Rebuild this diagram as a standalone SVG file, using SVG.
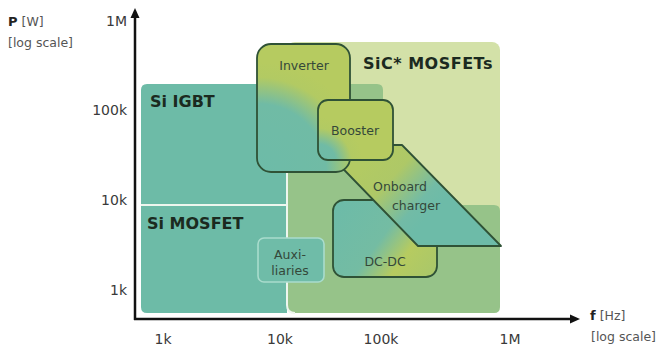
<svg xmlns="http://www.w3.org/2000/svg" width="670" height="349" viewBox="0 0 670 349">
<defs>
<style>
.tick{font-family:"DejaVu Sans",Verdana,sans-serif;font-size:14px;fill:#3a3a3a}
.ax{font-family:"DejaVu Sans",Verdana,sans-serif;font-size:12.5px;fill:#555}
.axb{font-weight:bold;fill:#222;font-size:13px}
.reg{font-family:"DejaVu Sans",Verdana,sans-serif;font-size:16px;font-weight:bold;fill:#1b2a20}
.nt{font-family:"DejaVu Sans",Verdana,sans-serif;font-size:12.5px;fill:#34483a;text-anchor:middle}
.box{stroke:#2f5236;stroke-width:1.8}
.axis{stroke:#111;stroke-width:2.5;fill:none}
</style>
<radialGradient id="gInv" gradientUnits="userSpaceOnUse" cx="258" cy="172" r="110">
<stop offset="0" stop-color="#6dbba8"/><stop offset="0.62" stop-color="#70bba5"/><stop offset="0.86" stop-color="#b2ca63"/><stop offset="1" stop-color="#b6cb60"/>
</radialGradient>
<radialGradient id="gBoo" gradientUnits="userSpaceOnUse" cx="318" cy="162" r="45">
<stop offset="0" stop-color="#6dbba8"/><stop offset="0.4" stop-color="#70bba5"/><stop offset="0.75" stop-color="#b2ca63"/><stop offset="1" stop-color="#b6cb60"/>
</radialGradient>
<linearGradient id="gObc" gradientUnits="userSpaceOnUse" x1="365" y1="165" x2="425" y2="220">
<stop offset="0" stop-color="#b2ca63"/><stop offset="0.35" stop-color="#aec867"/><stop offset="0.8" stop-color="#72bba6"/><stop offset="1" stop-color="#6dbba8"/>
</linearGradient>
<linearGradient id="gDc" gradientUnits="userSpaceOnUse" x1="340" y1="205" x2="435" y2="275">
<stop offset="0" stop-color="#6dbba8"/><stop offset="0.45" stop-color="#74bca3"/><stop offset="0.7" stop-color="#b6cb60"/><stop offset="1" stop-color="#a9c76a"/>
</linearGradient>
</defs>

<g id="region-sic">
<rect x="287" y="42" width="213" height="271" rx="8" fill="#d3e1a8"/>
</g>
<g id="region-si">
<path d="M147,84 H287 V313 H147 Q141,313 141,307 V90 Q141,84 147,84 Z" fill="#6dbba7"/>
</g>
<g id="region-overlap">
<path d="M287,84 H377 Q383,84 383,90 V205 H494 Q500,205 500,211 V307 Q500,313 494,313 H295 Q287,313 287,305 Z" fill="#96c389"/>
</g>
<g id="region-borders" fill="none" stroke="#eef6ee" stroke-width="2">
<path d="M141,205 H287"/>
<path d="M287,84 V305 Q287,313 295,313"/>
</g>
<g id="label-si-igbt"><text class="reg" x="150" y="107">Si IGBT</text></g>
<g id="label-si-mosfet"><text class="reg" x="147" y="229">Si MOSFET</text></g>
<g id="label-sic"><text class="reg" x="363" y="69" letter-spacing="0.5">SiC* MOSFETs</text></g>

<g id="node-auxiliaries">
<rect x="258" y="238" width="66" height="44" rx="6" fill="#6fbca8" stroke="#a9dccd" stroke-width="1.6"/>
<text class="nt" x="290" y="259" font-size="12">Auxi-</text>
<text class="nt" x="290" y="275" font-size="12">liaries</text>
</g>
<g id="node-dcdc">
<rect class="box" x="333" y="200" width="104" height="77" rx="11" fill="url(#gDc)"/>
<text class="nt" x="385" y="266" font-size="13">DC-DC</text>
</g>
<g id="node-onboard">
<polygon class="box" points="320,145 402,145 501,246 418,246" fill="url(#gObc)" stroke-linejoin="round"/>
<text class="nt" x="400" y="191">Onboard</text>
<text class="nt" x="416" y="210">charger</text>
</g>
<g id="node-inverter">
<rect class="box" x="257" y="44" width="93" height="128" rx="14" fill="url(#gInv)"/>
<text class="nt" x="304" y="70">Inverter</text>
</g>
<g id="node-booster">
<rect class="box" x="318" y="100" width="75" height="60" rx="10" fill="url(#gBoo)"/>
<text class="nt" x="355" y="135">Booster</text>
</g>

<g id="axes">
<path class="axis" d="M135,320 V16"/>
<path class="axis" d="M134,319 H572"/>
<polygon points="135,8 130.5,18 139.5,18" fill="#111"/>
<polygon points="580,319 570,314.5 570,323.5" fill="#111"/>
</g>
<g id="axis-labels">
<text class="ax" x="8" y="26"><tspan class="axb">P</tspan> [W]</text>
<text class="ax" x="8" y="47">[log scale]</text>
<text class="ax" x="590" y="320"><tspan class="axb">f</tspan> [Hz]</text>
<text class="ax" x="591" y="341">[log scale]</text>
<text class="tick" x="127" y="26" text-anchor="end">1M</text>
<text class="tick" x="127" y="115" text-anchor="end">100k</text>
<text class="tick" x="127" y="205" text-anchor="end">10k</text>
<text class="tick" x="127" y="295" text-anchor="end">1k</text>
<text class="tick" x="163" y="344" text-anchor="middle">1k</text>
<text class="tick" x="280" y="344" text-anchor="middle">10k</text>
<text class="tick" x="381" y="344" text-anchor="middle">100k</text>
<text class="tick" x="510" y="344" text-anchor="middle">1M</text>
</g>
</svg>
